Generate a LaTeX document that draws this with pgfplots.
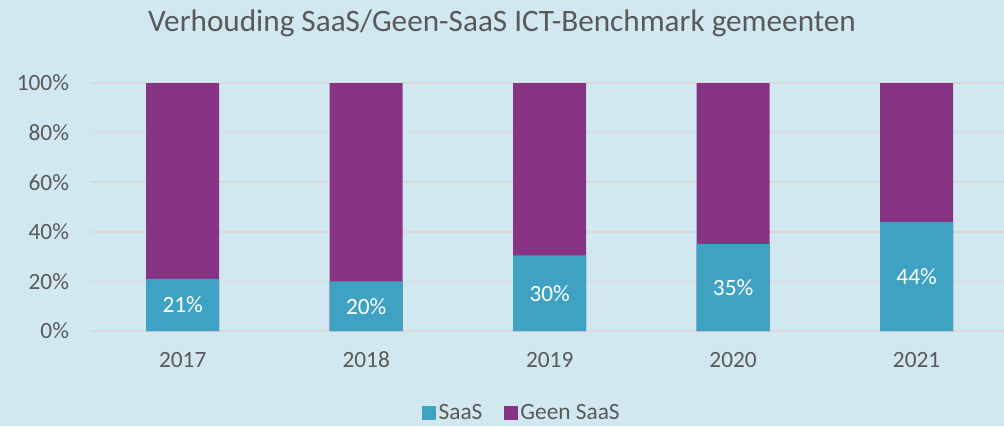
\documentclass[border=0pt]{standalone}
\usepackage{fontspec}
\setmainfont{Carlito}
\usepackage{pgfplots}
\pgfplotsset{compat=1.18}

\definecolor{bgcol}{RGB}{210,232,240}
\definecolor{saas}{RGB}{64,162,195}
\definecolor{geen}{RGB}{134,52,131}
\definecolor{txt}{RGB}{89,89,89}
\definecolor{gridc}{RGB}{217,217,217}

\begin{document}
\begin{tikzpicture}
\fill[bgcol] (0pt,0pt) rectangle (753pt,319.5pt);
\useasboundingbox (0pt,0pt) rectangle (753pt,319.5pt);
\node[text=txt, font=\fontsize{23.4}{28}\selectfont] at (376.5pt,302pt) {Verhouding SaaS/Geen-SaaS ICT-Benchmark gemeenten};
\begin{axis}[
    at={(68.25pt,71.25pt)}, anchor=south west,
    scale only axis, width=688pt, height=186pt,
    xmin=-0.5, xmax=4.5, ymin=0, ymax=100,
    axis line style={draw=none},
    ymajorgrids, grid style={gridc, line width=1.3pt},
    ytick={0,20,...,100}, xtick={0,1,2,3,4},
    xticklabels={2017,2018,2019,2020,2021},
    yticklabel={\pgfmathprintnumber{\tick}\%},
    /pgf/number format/assume math mode=true,
    tick style={draw=none},
    ticklabel style={text=txt, font=\fontsize{17.5}{20}\selectfont},
    yticklabel style={xshift=-13pt},
    xticklabel style={yshift=-12pt, text height=12pt, text depth=0pt},
    clip=false,
    legend style={at={(0.47,-0.33)}, anchor=center, draw=none, fill=none,
        legend columns=2, text=txt, font=\fontsize{17.5}{20}\selectfont,
        /tikz/every even column/.append style={column sep=14pt}},
    legend image code/.code={\fill[#1, draw=none] (0pt,-5.25pt) rectangle (10.5pt,5.25pt);},
]
\addplot[ybar, bar width=54.75pt, bar shift=0pt, fill=geen, draw=none, forget plot]
  coordinates {(0,100) (1,100) (2,100) (3,100) (4,100)};
\addplot[ybar, bar width=54.75pt, bar shift=0pt, fill=saas, draw=none, forget plot]
  coordinates {(0,21) (1,20) (2,30.5) (3,35) (4,44)};
\addplot[draw=none, mark=none, forget plot, point meta=explicit symbolic,
  nodes near coords, every node near coord/.append style={anchor=center, text=white, font=\fontsize{17.5}{20}\selectfont}]
  coordinates {(0,10.5)[21\%] (1,10)[20\%] (2,15.25)[30\%] (3,17.5)[35\%] (4,22)[44\%]};
\addlegendimage{fill=saas, draw=none}
\addlegendentry{SaaS}
\addlegendimage{fill=geen, draw=none}
\addlegendentry{Geen SaaS}
\end{axis}
\end{tikzpicture}
\end{document}
